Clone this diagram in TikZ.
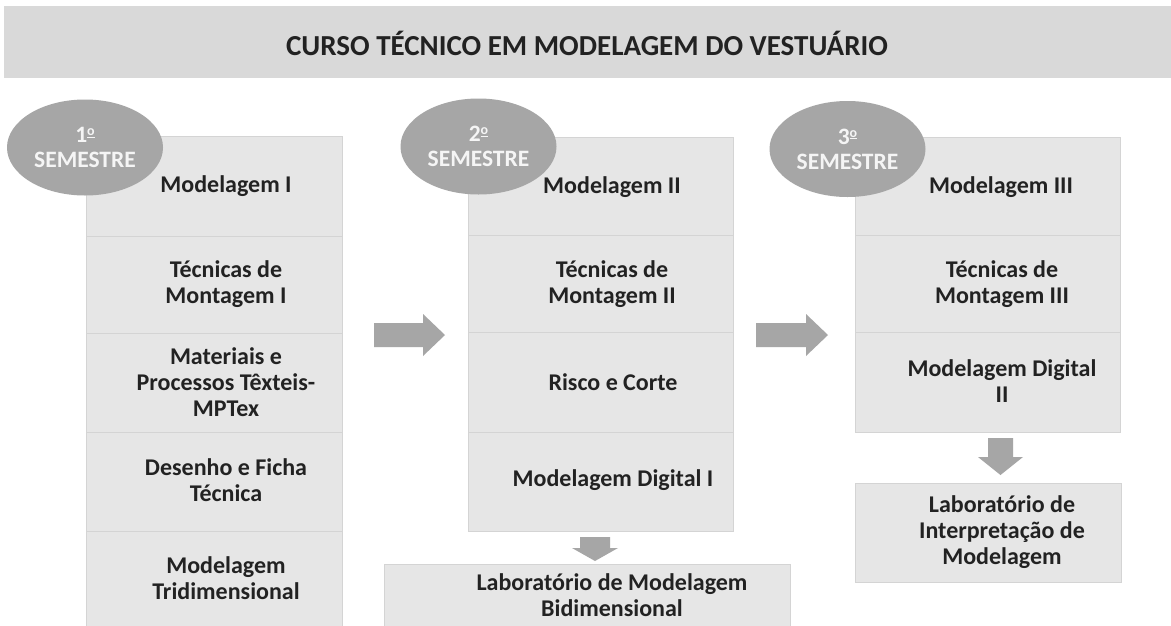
\documentclass[tikz,border=0pt]{standalone}
\usepackage{fontspec}
\setmainfont{Carlito}
\usetikzlibrary{shapes.geometric}
\definecolor{bannerfill}{HTML}{D9D9D9}
\definecolor{boxfill}{HTML}{E6E6E6}
\definecolor{boxline}{HTML}{D4D4D4}
\definecolor{shapegray}{HTML}{A6A6A6}
\definecolor{txtcol}{HTML}{222222}
\definecolor{semtxt}{HTML}{F5F5F5}
\newcommand{\ordmark}{\raisebox{7pt}{\fontsize{14}{14}\selectfont\underline{o}}}
\tikzset{
  rowbox/.style={draw=boxline, fill=boxfill, line width=1pt, inner sep=0pt},
  rowtext/.style={text=txtcol, align=center, inner sep=0pt, font=\fontsize{24}{26}\selectfont\bfseries},
  semester/.style={ellipse, fill=shapegray, draw=none, minimum width=156pt, minimum height=96pt, inner sep=0pt,
    text=semtxt, align=center, font=\fontsize{23.5}{25}\selectfont\bfseries},
  blockarrow/.style={fill=shapegray, draw=none}
}
\begin{document}
\begin{tikzpicture}[x=1pt,y=-1pt]
\useasboundingbox (0,0) rectangle (1171,625);
\fill[white] (0,0) rectangle (1171,625);
% title banner
\node[fill=bannerfill, minimum width=1180pt, minimum height=72pt, inner sep=0pt] (banner) at (594,42) {};
\node[text=txtcol, inner sep=0pt, font=\fontsize{29}{32}\selectfont\bfseries] (title) at (587,43) {CURSO TÉCNICO EM MODELAGEM DO VESTUÁRIO};
% column 1
\node[rowbox, minimum width=256pt, minimum height=100pt] (c1a) at (214,186) {};
\node[rowbox, minimum width=256pt, minimum height=97pt] (c1b) at (214,284.5) {};
\node[rowbox, minimum width=256pt, minimum height=99pt] (c1c) at (214,382.5) {};
\node[rowbox, minimum width=256pt, minimum height=99pt] (c1d) at (214,481.5) {};
\node[rowbox, minimum width=256pt, minimum height=110pt] (c1e) at (214,586) {};
\node[rowtext] (t1a) at (226,186) {Modelagem I};
\node[rowtext] (t1b) at (226,284) {Técnicas de\\Montagem I};
\node[rowtext] (t1c) at (226,382) {Materiais e\\Processos Têxteis-\\MPTex};
\node[rowtext] (t1d) at (226,480) {Desenho e Ficha\\Técnica};
\node[rowtext] (t1e) at (226,578) {Modelagem\\Tridimensional};
% column 2
\node[rowbox, minimum width=265pt, minimum height=98pt] (c2a) at (600.5,186) {};
\node[rowbox, minimum width=265pt, minimum height=97pt] (c2b) at (600.5,283.5) {};
\node[rowbox, minimum width=265pt, minimum height=100pt] (c2c) at (600.5,382) {};
\node[rowbox, minimum width=265pt, minimum height=99pt] (c2d) at (600.5,481.5) {};
\node[rowtext] (t2a) at (612,187) {Modelagem II};
\node[rowtext] (t2b) at (612,284) {Técnicas de\\Montagem II};
\node[rowtext] (t2c) at (613,382) {Risco e Corte};
\node[rowtext] (t2d) at (613,480) {Modelagem Digital I};
\node[rowbox, minimum width=406pt, minimum height=90pt] (lab2) at (587,609) {};
\node[rowtext] (tl2) at (612,595) {Laboratório de Modelagem\\Bidimensional};
% column 3
\node[rowbox, minimum width=265pt, minimum height=98pt] (c3a) at (987.5,186) {};
\node[rowbox, minimum width=265pt, minimum height=97pt] (c3b) at (987.5,283.5) {};
\node[rowbox, minimum width=265pt, minimum height=100pt] (c3c) at (987.5,382) {};
\node[rowtext] (t3a) at (1001,187) {Modelagem III};
\node[rowtext] (t3b) at (1002,284) {Técnicas de\\Montagem III};
\node[rowtext] (t3c) at (1002,381) {Modelagem Digital\\II};
\node[rowbox, minimum width=266pt, minimum height=99pt] (lab3) at (988,532.5) {};
\node[rowtext] (tl3) at (1002,532) {Laboratório de\\Interpretação de\\Modelagem};
% semester ellipses
\node[semester] (s1) at (85,147.5) {1\ordmark\\SEMESTRE};
\node[semester] (s2) at (478.5,146.5) {2\ordmark\\SEMESTRE};
\node[semester] (s3) at (847.5,149) {3\ordmark\\SEMESTRE};
% block arrows
\fill[blockarrow] (374,323) -- (423,323) -- (423,314) -- (445,335) -- (423,356) -- (423,347) -- (374,347) -- cycle;
\fill[blockarrow] (756,323) -- (806,323) -- (806,314) -- (828,335) -- (806,356) -- (806,347) -- (756,347) -- cycle;
\fill[blockarrow] (580,537) -- (610,537) -- (610,548) -- (618,548) -- (595,561) -- (572,548) -- (580,548) -- cycle;
\fill[blockarrow] (988,438) -- (1013,438) -- (1013,457) -- (1023,457) -- (1000.5,475) -- (978,457) -- (988,457) -- cycle;
\end{tikzpicture}
\end{document}
